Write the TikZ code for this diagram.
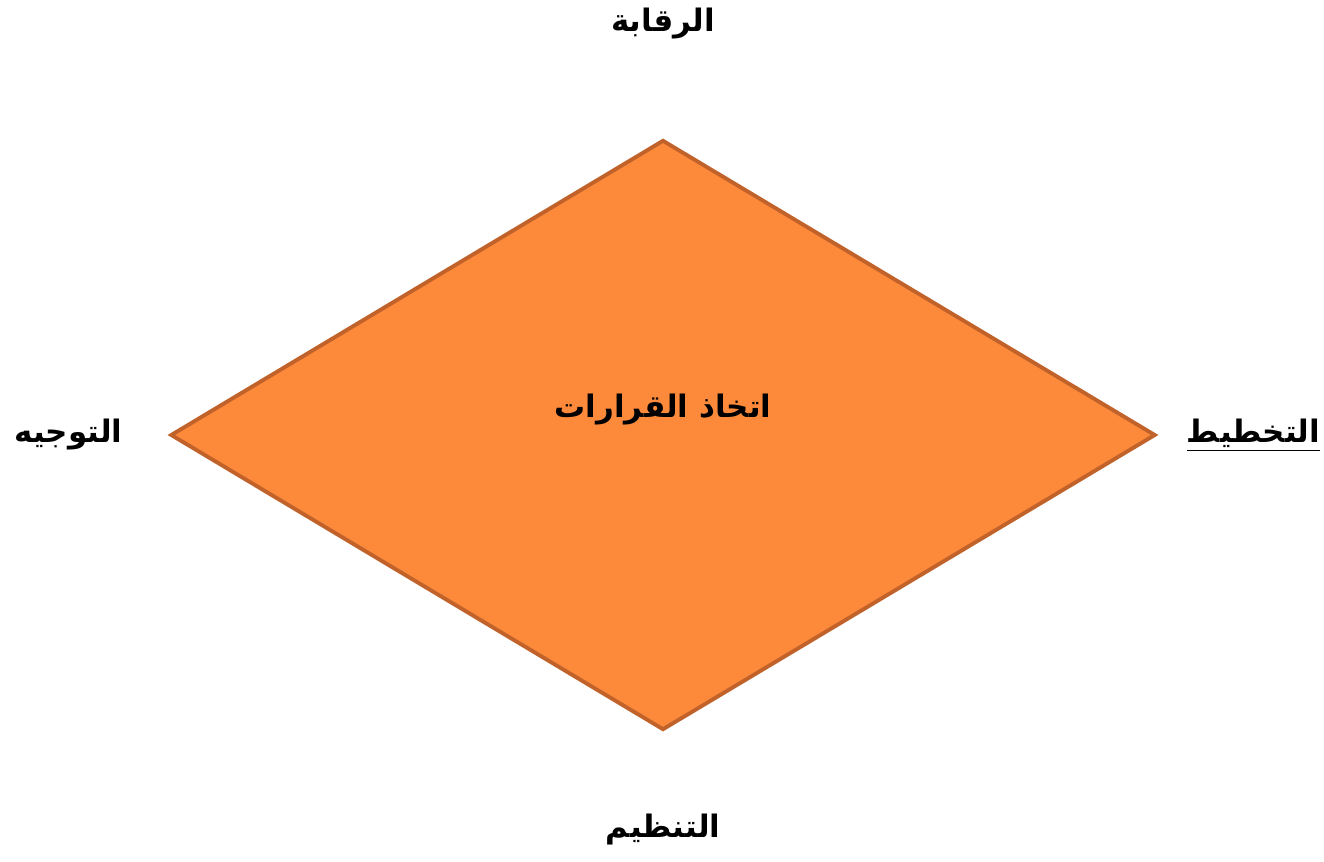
\documentclass[tikz,border=0pt]{standalone}
\usepackage{fontspec}
\newfontfamily\arabicfont[Script=Arabic]{DejaVu Sans}
\TeXXeTstate=1
\usepackage{tikz}
\usetikzlibrary{shapes.geometric,positioning}
\definecolor{rhombfill}{HTML}{FD8A3A}
\definecolor{rhombline}{HTML}{C0622A}

\begin{document}
\begin{tikzpicture}[
  rhomb/.style={diamond,draw=rhombline,fill=rhombfill,line width=2.2pt,
    minimum width=19.7cm,minimum height=11.8cm,inner sep=0pt},
  word/.style={font=\arabicfont\bfseries\fontsize{17.6}{21}\selectfont,inner sep=0pt}
]
  \useasboundingbox (0,0) rectangle (26.48,17.22);

  % the decision diamond in the middle
  \node[rhomb] (core) at (13.26,8.52) {};
  \node[word] (decide) at (13.26,9.02) {\beginR اتخاذ القرارات\endR};

  % the four functions round it
  \node[word] (control) [above=2.3cm of core.north,anchor=center] {\beginR الرقابة\endR};
  \node[word] (direct) [left=2.0cm of core.west,anchor=center] {\beginR التوجيه\endR};
  \node[word] (plan) [right=1.92cm of core.east,anchor=center] {\beginR \underline{التخطيط}\endR};
  \node[word] (organise) [below=1.96cm of core.south,anchor=center] {\beginR التنظيم\endR};
\end{tikzpicture}
\end{document}
